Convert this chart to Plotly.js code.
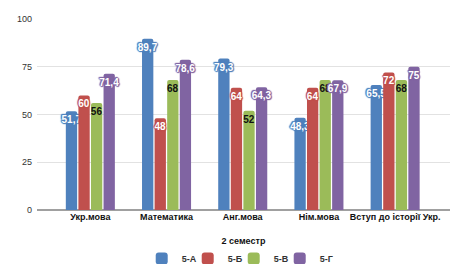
<!DOCTYPE html>
<html>
<head>
<meta charset="utf-8">
<script src="https://cdn.plot.ly/plotly-3.0.1.min.js"></script>
<style>html,body{margin:0;padding:0;background:#fff;}#chart{width:450px;height:264px;}</style>
</head>
<body>
<div id="chart"></div>
<script>
var categories = ['Укр.мова', 'Математика', 'Анг.мова', 'Нім.мова', 'Вступ до історії Укр.'];
var seriesNames = ['5-А', '5-Б', '5-В', '5-Г'];
var valsA = [51.7, 89.7, 79.3, 48.3, 65.5];
var valsB = [60, 48, 64, 64, 72];
var valsV = [56, 68, 52, 68, 68];
var valsG = [71.4, 78.6, 64.3, 67.9, 75];
var yTicks = [0, 25, 50, 75, 100];
var xTitle = '2 семестр';

var colors = ['#4F81BD', '#C0504D', '#9BBB59', '#8064A2'];
var textColors = ['#ffffff', '#ffffff', '#111111', '#ffffff'];
var allVals = [valsA, valsB, valsV, valsG];

function fmt(v) { return String(v).replace('.', ','); }
function halo(c) {
  return '1px 0 1px ' + c + ', -1px 0 1px ' + c + ', 0 1px 1px ' + c + ', 0 -1px 1px ' + c + ', 1px 1px 1px ' + c + ', -1px -1px 1px ' + c;
}

var traces = allVals.map(function (vals, i) {
  return {
    type: 'bar',
    name: seriesNames[i],
    x: categories,
    y: vals,
    text: vals.map(fmt),
    textposition: 'inside',
    insidetextanchor: 'end',
    textangle: 0,
    constraintext: 'none',
    cliponaxis: false,
    textfont: {
      family: 'Liberation Sans, Arial, sans-serif',
      size: 10,
      weight: 'bold',
      color: textColors[i],
      shadow: i === 2 ? 'none' : halo(colors[i])
    },
    marker: { color: colors[i], line: { width: 0 } },
    hoverinfo: 'none'
  };
});
// invisible spacer legend entry so the last legend label is not clipped
traces.push({
  type: 'scatter', mode: 'markers', name: ' ', x: [categories[0]], y: [null], showlegend: true,
  marker: { color: 'rgba(0,0,0,0)', size: 1 }, hoverinfo: 'none'
});

var layout = {
  width: 450,
  height: 264,
  margin: { l: 37, r: 0, t: 19, b: 54, autoexpand: false },
  paper_bgcolor: '#ffffff',
  plot_bgcolor: '#ffffff',
  barmode: 'group',
  bargap: 0.34,
  bargroupgap: 0.1,
  barcornerradius: 2,
  showlegend: true,
  font: { family: 'Liberation Sans, Arial, sans-serif', color: '#222' },
  xaxis: {
    type: 'category',
    range: [-0.7, 4.72],
    showgrid: false,
    showline: false,
    ticks: '',
    automargin: false,
    tickfont: { size: 9, weight: 'bold', color: '#111' },
    title: { text: xTitle, font: { size: 9, weight: 'bold', color: '#111' }, standoff: 16 }
  },
  yaxis: {
    range: [0, 100],
    tickvals: yTicks,
    ticktext: yTicks.map(String),
    showgrid: true,
    gridcolor: '#e2e2e2',
    gridwidth: 1,
    zeroline: true,
    zerolinecolor: '#a0a0a0',
    zerolinewidth: 1.5,
    ticks: '',
    automargin: false,
    ticklabelstandoff: 4,
    tickfont: { size: 9, color: '#333' }
  },
  legend: {
    orientation: 'h',
    x: 0.532,
    xanchor: 'center',
    y: -0.178,
    yanchor: 'top',
    font: { size: 9, weight: 'bold', color: '#333' },
    itemwidth: 30,
    entrywidth: 1,
    entrywidthmode: 'pixels',
    tracegroupgap: 0
  }
};

Plotly.newPlot('chart', traces, layout, { staticPlot: true, displayModeBar: false });
</script>
</body>
</html>
